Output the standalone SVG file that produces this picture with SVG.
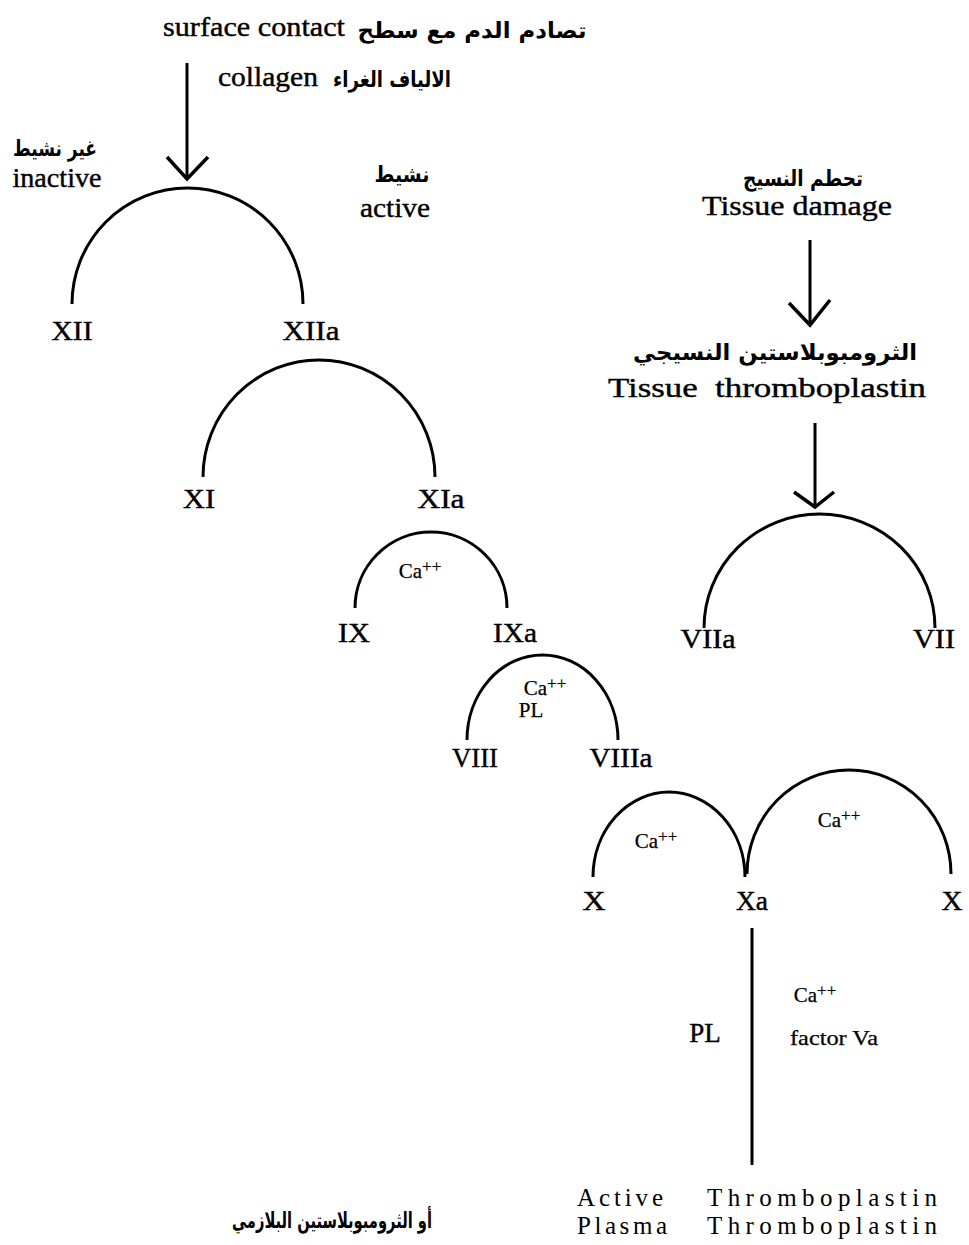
<svg xmlns="http://www.w3.org/2000/svg" width="969" height="1245" viewBox="0 0 969 1245">
<style>
.t{font-family:"Liberation Serif","Times New Roman",serif;font-size:27px;fill:#000;stroke:#000;stroke-width:0.4;text-anchor:middle;white-space:pre}
.s{font-family:"Liberation Serif","Times New Roman",serif;font-size:21px;fill:#000;stroke:#000;stroke-width:0.25;text-anchor:middle}
.b{font-family:"Liberation Serif","Times New Roman",serif;font-size:25px;fill:#000;text-anchor:middle}
.ar{font-family:"DejaVu Sans","Noto Sans",sans-serif;font-weight:bold;font-size:22px;fill:#000;text-anchor:middle}
.ln{fill:none;stroke:#000;stroke-width:3;stroke-linecap:butt}
.hd{fill:none;stroke:#000;stroke-width:3.5;stroke-linejoin:miter}
</style>
<rect width="969" height="1245" fill="#fff"/>
<g id="connectors">
  <path class="ln" d="M72,304 A115.5,116 0 0 1 303,304"/>
  <path class="ln" d="M203,477 A116,117 0 0 1 435,477"/>
  <path class="ln" d="M355,608 A76,76 0 0 1 507,608"/>
  <path class="ln" d="M467,740 A75.5,85 0 0 1 618,740"/>
  <path class="ln" d="M593,877 A76,85 0 0 1 745,877"/>
  <path class="ln" d="M747,874 A102,104 0 0 1 951,874"/>
  <path class="ln" d="M704,628 A115.5,114 0 0 1 935,628"/>
  <line class="ln" x1="187" y1="63" x2="187" y2="178"/>
  <polyline class="hd" points="167,157 187,179 208,157"/>
  <line class="ln" x1="810" y1="240" x2="810" y2="323"/>
  <polyline class="hd" points="789,303 810,325 830,300"/>
  <line class="ln" x1="815" y1="423" x2="815" y2="505"/>
  <polyline class="hd" points="794,492 815,507 834,492"/>
  <line class="ln" x1="752" y1="928" x2="752" y2="1165"/>
</g>
<g id="top">
  <text class="t" x="254" y="36" textLength="182" lengthAdjust="spacingAndGlyphs">surface contact</text>
  <text class="ar" x="472" y="38" font-size="24" textLength="229" lengthAdjust="spacingAndGlyphs">تصادم الدم مع سطح</text>
  <text class="t" x="268" y="86" textLength="100" lengthAdjust="spacingAndGlyphs">collagen</text>
  <text class="ar" x="392" y="87" textLength="118" lengthAdjust="spacingAndGlyphs">الالياف الغراء</text>
</g>
<g id="legend">
  <text class="ar" x="55" y="156" font-size="20" textLength="84" lengthAdjust="spacingAndGlyphs">غير نشيط</text>
  <text class="t" x="57" y="187" textLength="89" lengthAdjust="spacingAndGlyphs">inactive</text>
  <text class="ar" x="402" y="182" font-size="20" textLength="55" lengthAdjust="spacingAndGlyphs">نشيط</text>
  <text class="t" x="395" y="217" textLength="70" lengthAdjust="spacingAndGlyphs">active</text>
</g>
<g id="n-XII"><text class="t" x="72" y="340" textLength="41" lengthAdjust="spacingAndGlyphs">XII</text></g>
<g id="n-XIIa"><text class="t" x="311" y="340" textLength="57" lengthAdjust="spacingAndGlyphs">XIIa</text></g>
<g id="n-XI"><text class="t" x="199" y="508" textLength="32" lengthAdjust="spacingAndGlyphs">XI</text></g>
<g id="n-XIa"><text class="t" x="441" y="508" textLength="47" lengthAdjust="spacingAndGlyphs">XIa</text></g>
<g id="n-IX"><text class="t" x="354" y="642" textLength="32" lengthAdjust="spacingAndGlyphs">IX</text></g>
<g id="n-IXa"><text class="t" x="515" y="642" textLength="44" lengthAdjust="spacingAndGlyphs">IXa</text></g>
<g id="n-VIII"><text class="t" x="475" y="767" textLength="46" lengthAdjust="spacingAndGlyphs">VIII</text></g>
<g id="n-VIIIa"><text class="t" x="621" y="767" textLength="63" lengthAdjust="spacingAndGlyphs">VIIIa</text></g>
<g id="n-X1"><text class="t" x="594" y="910" textLength="23" lengthAdjust="spacingAndGlyphs">X</text></g>
<g id="n-Xa"><text class="t" x="752" y="910" textLength="32" lengthAdjust="spacingAndGlyphs">Xa</text></g>
<g id="n-X2"><text class="t" x="952" y="910" textLength="21" lengthAdjust="spacingAndGlyphs">X</text></g>
<g id="n-VIIa"><text class="t" x="708" y="648" textLength="55" lengthAdjust="spacingAndGlyphs">VIIa</text></g>
<g id="n-VII"><text class="t" x="934" y="648" textLength="42" lengthAdjust="spacingAndGlyphs">VII</text></g>
<g id="cofactors">
  <text class="s" x="420" y="578">Ca<tspan font-size="17" dy="-6">++</tspan></text>
  <text class="s" x="545" y="695">Ca<tspan font-size="17" dy="-6">++</tspan></text>
  <text class="s" x="531" y="717" font-size="19">PL</text>
  <text class="s" x="656" y="848">Ca<tspan font-size="17" dy="-6">++</tspan></text>
  <text class="s" x="839" y="827">Ca<tspan font-size="17" dy="-6">++</tspan></text>
  <text class="t" x="705" y="1042" font-size="25">PL</text>
  <text class="s" x="815" y="1002">Ca<tspan font-size="17" dy="-6">++</tspan></text>
  <text class="s" x="834" y="1045" textLength="88" lengthAdjust="spacingAndGlyphs">factor Va</text>
</g>
<g id="tissue">
  <text class="ar" x="803" y="186" font-size="22" textLength="120" lengthAdjust="spacingAndGlyphs">تحطم النسيج</text>
  <text class="t" x="797" y="215" textLength="190" lengthAdjust="spacingAndGlyphs">Tissue damage</text>
  <text class="ar" x="775" y="360" font-size="22" textLength="284" lengthAdjust="spacingAndGlyphs">الثرومبوبلاستين النسيجي</text>
  <text class="t" x="767" y="397" textLength="318" lengthAdjust="spacingAndGlyphs">Tissue  thromboplastin</text>
</g>
<g id="result">
  <text class="ar" x="332" y="1228" font-size="22" textLength="200" lengthAdjust="spacingAndGlyphs">أو الثرومبوبلاستين البلازمي</text>
  <text class="b" x="620" y="1206" textLength="86" lengthAdjust="spacing">Active</text>
  <text class="b" x="622" y="1234" textLength="90" lengthAdjust="spacing">Plasma</text>
  <text class="b" x="822" y="1206" textLength="230" lengthAdjust="spacing">Thromboplastin</text>
  <text class="b" x="822" y="1234" textLength="230" lengthAdjust="spacing">Thromboplastin</text>
</g>
</svg>
